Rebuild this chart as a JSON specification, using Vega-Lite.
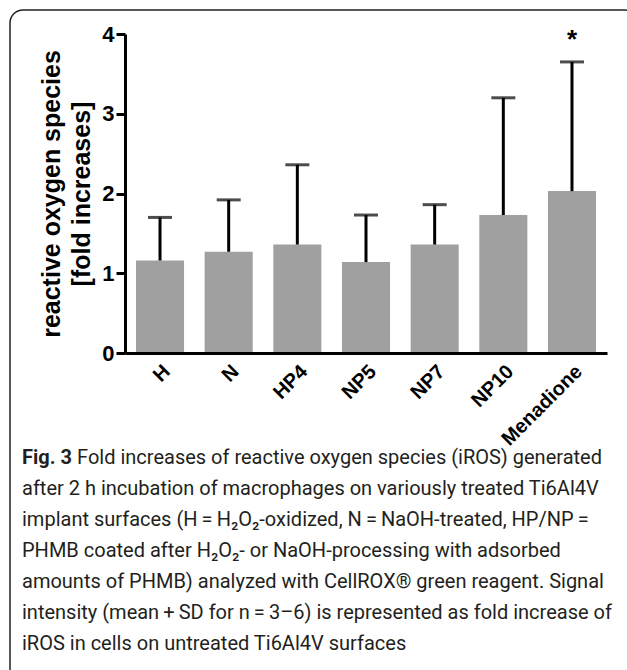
{
  "$schema": "https://vega.github.io/schema/vega-lite/v6.json",
  "width": 628,
  "height": 680,
  "autosize": {"type": "none"},
  "padding": {"left": 10, "top": 10, "right": 0, "bottom": 0},
  "background": "white",
  "config": {
    "view": {"stroke": "#222222", "strokeWidth": 1.5, "cornerRadius": 13},
    "font": "Liberation Sans"
  },
  "title": {
    "text": "Fig. 3",
    "subtitle": [
      "\u200b\u2003\u2003\u2002\u2009Fold increases of reactive oxygen species (iROS) generated",
      "after 2 h incubation of macrophages on variously treated Ti6Al4V",
      "implant surfaces (H\u2009=\u2009H\u2082O\u2082-oxidized, N\u2009=\u2009NaOH-treated, HP/NP\u2009=",
      "PHMB coated after H\u2082O\u2082- or NaOH-processing with adsorbed",
      "amounts of PHMB) analyzed with CellROX\u00ae green reagent. Signal",
      "intensity (mean\u2009+\u2009SD for n\u2009=\u20093\u20136) is represented as fold increase of",
      "iROS in cells on untreated Ti6Al4V surfaces"
    ],
    "orient": "bottom",
    "anchor": "start",
    "frame": "group",
    "offset": -242,
    "dx": 12,
    "font": "Roboto",
    "fontSize": 20,
    "fontWeight": "bold",
    "color": "#231f20",
    "subtitleFont": "Roboto",
    "subtitleFontSize": 20,
    "subtitleFontWeight": "normal",
    "subtitleColor": "#231f20",
    "subtitleLineHeight": 31,
    "subtitlePadding": -20
  },
  "data": {
    "values": [
      {"group": "H", "mean": 1.16, "upper": 1.70, "sig": ""},
      {"group": "N", "mean": 1.27, "upper": 1.92, "sig": ""},
      {"group": "HP4", "mean": 1.36, "upper": 2.36, "sig": ""},
      {"group": "NP5", "mean": 1.14, "upper": 1.73, "sig": ""},
      {"group": "NP7", "mean": 1.36, "upper": 1.86, "sig": ""},
      {"group": "NP10", "mean": 1.73, "upper": 3.20, "sig": ""},
      {"group": "Menadione", "mean": 2.03, "upper": 3.65, "sig": "*"}
    ]
  },
  "encoding": {
    "x": {
      "field": "group",
      "type": "nominal",
      "sort": null,
      "scale": {"range": [115, 597], "paddingInner": 0.3, "paddingOuter": 0.16},
      "axis": {
        "orient": "bottom",
        "offset": -337,
        "title": null,
        "domainWidth": 3,
        "domainColor": "#000000",
        "ticks": false,
        "labelAngle": -45,
        "labelFontSize": 20,
        "labelFontWeight": "bold",
        "labelColor": "#000000",
        "labelPadding": 8,
        "labelOffset": 0,
        "grid": false,
        "zindex": 1
      }
    }
  },
  "layer": [
    {
      "mark": {"type": "bar", "color": "#a0a0a0"},
      "encoding": {
        "y": {
          "field": "mean",
          "type": "quantitative",
          "scale": {"domain": [0, 4], "range": [343, 24], "nice": false, "zero": true},
          "axis": {
            "orient": "left",
            "offset": -115,
            "values": [0, 1, 2, 3, 4],
            "format": "d",
            "grid": false,
            "domainWidth": 3,
            "domainColor": "#000000",
            "tickWidth": 3,
            "tickSize": 9,
            "tickColor": "#000000",
            "labelFontSize": 22,
            "labelFontWeight": "bold",
            "labelColor": "#000000",
            "labelPadding": 2,
            "title": ["reactive oxygen species", "[fold increases]"],
            "titleFontSize": 25,
            "titleFontWeight": "bold",
            "titleColor": "#000000",
            "titleLineHeight": 30,
            "titlePadding": 7,
            "zindex": 1
          }
        }
      }
    },
    {
      "mark": {"type": "rule", "color": "#000000", "strokeWidth": 3},
      "encoding": {
        "y": {"field": "mean", "type": "quantitative"},
        "y2": {"field": "upper"}
      }
    },
    {
      "mark": {"type": "tick", "color": "#000000", "size": 24, "thickness": 3, "orient": "horizontal"},
      "encoding": {
        "y": {"field": "upper", "type": "quantitative"}
      }
    },
    {
      "mark": {"type": "text", "color": "#000000", "fontSize": 26, "fontWeight": "bold", "dy": -22, "baseline": "middle"},
      "encoding": {
        "y": {"field": "upper", "type": "quantitative"},
        "text": {"field": "sig"}
      }
    }
  ]
}
